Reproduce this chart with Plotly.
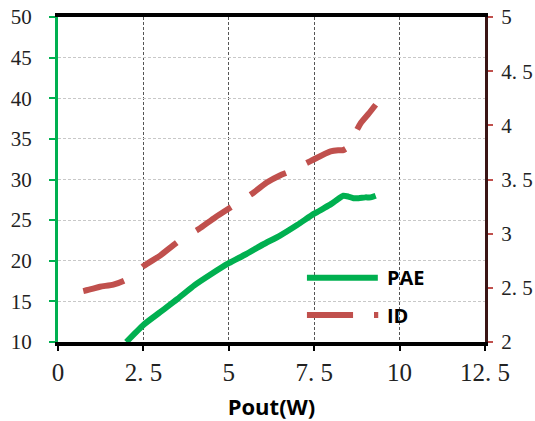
import plotly.graph_objects as go

# Output power (W) and power-added efficiency (%)
pae_x = [2.0, 2.5, 3.0, 3.5, 4.0, 4.5, 5.0, 5.5, 6.0, 6.5, 7.0, 7.5, 7.8, 8.0,
         8.2, 8.35, 8.5, 8.65, 8.8, 9.0, 9.15, 9.3]
pae_y = [10.0, 12.1, 13.7, 15.3, 17.0, 18.4, 19.7, 20.8, 22.0, 23.1, 24.4, 25.8,
         26.5, 27.0, 27.6, 28.0, 27.9, 27.7, 27.7, 27.8, 27.8, 28.0]

# Output power (W) and drain current (A)
id_x = [0.74, 1.0, 1.23, 1.62, 1.96, 2.2, 2.5, 3.0, 3.53, 4.11, 4.6, 5.14, 5.73,
        6.1, 6.51, 6.75, 7.39, 7.98, 8.2, 8.33, 8.45, 8.5, 8.7, 8.86, 9.1, 9.3]
id_y = [2.47, 2.49, 2.51, 2.53, 2.57, 2.62, 2.70, 2.80, 2.93, 3.04, 3.15, 3.26,
        3.38, 3.47, 3.54, 3.57, 3.67, 3.76, 3.77, 3.77, 3.79, 3.83, 3.93, 4.02,
        4.11, 4.19]

x_ticks = [0, 2.5, 5, 7.5, 10, 12.5]
x_tick_text = ["0", "2. 5", "5", "7. 5", "10", "12. 5"]
y_ticks = [10, 15, 20, 25, 30, 35, 40, 45, 50]
y2_ticks = [2, 2.5, 3, 3.5, 4, 4.5, 5]
y2_tick_text = ["2", "2. 5", "3", "3. 5", "4", "4. 5", "5"]

GREEN = "#00B050"
RED = "#C0504D"
SERIF = "Liberation Serif, serif"
SANS = "Open Sans, Liberation Sans, sans-serif"

fig = go.Figure()
fig.add_trace(go.Scatter(x=pae_x, y=pae_y, mode="lines", name="PAE",
                         line=dict(color=GREEN, width=6, shape="spline", smoothing=0.6),
                         showlegend=False))
fig.add_trace(go.Scatter(x=id_x, y=id_y, mode="lines", name="ID", yaxis="y2",
                         line=dict(color=RED, width=6, dash="42px,23px",
                                   shape="spline", smoothing=0.6),
                         showlegend=False))

# Legend drawn as line samples with bold labels
leg = [("PAE", 0.198, "solid"), ("ID", 0.083, "dash")]
for label, yy, kind in leg:
    if kind == "solid":
        fig.add_shape(type="line", xref="paper", yref="paper", x0=0.583, x1=0.749,
                      y0=yy, y1=yy, line=dict(color=GREEN, width=6))
    else:
        fig.add_shape(type="line", xref="paper", yref="paper", x0=0.583, x1=0.691,
                      y0=yy, y1=yy, line=dict(color=RED, width=6))
        fig.add_shape(type="line", xref="paper", yref="paper", x0=0.740, x1=0.750,
                      y0=yy, y1=yy, line=dict(color=RED, width=6))
    fig.add_annotation(xref="paper", yref="paper", x=0.766, y=yy, text=f"<b>{label}</b>",
                       showarrow=False, xanchor="left", yanchor="middle",
                       font=dict(family=SANS, size=20, color="#000"))

fig.update_layout(
    width=535, height=421,
    margin=dict(l=58, r=50, t=17, b=79, autoexpand=False),
    paper_bgcolor="white", plot_bgcolor="white",
    xaxis=dict(range=[0, 12.5], tickvals=x_ticks, ticktext=x_tick_text,
               automargin=False,
               showgrid=True, gridcolor="#555555", griddash="3px,2px", gridwidth=1,
               showline=True, linecolor="black", linewidth=4, mirror=True,
               ticks="outside", ticklen=5, tickwidth=1.5, tickcolor="black",
               ticklabelstandoff=0,
               tickfont=dict(family=SERIF, size=25, color="#222"),
               zeroline=False,
               title=dict(text="<b>Pout(W)</b>", standoff=22,
                          font=dict(family=SANS, size=22, color="#000"))),
    yaxis=dict(range=[10, 50], tickvals=y_ticks, automargin=False,
               showgrid=True, gridcolor="#c8c8c8", griddash="3px,2px", gridwidth=1,
               showline=True, linecolor=GREEN, linewidth=3,
               ticks="outside", ticklen=6, tickwidth=2, tickcolor=GREEN,
               ticklabelstandoff=13,
               tickfont=dict(family=SERIF, size=21, color="#222"),
               zeroline=False),
    yaxis2=dict(range=[2, 5], tickvals=y2_ticks, ticktext=y2_tick_text,
                automargin=False,
                overlaying="y", side="right", showgrid=False,
                showline=True, linecolor="#3a1515", linewidth=3,
                ticks="outside", ticklen=5, tickwidth=2, tickcolor=RED,
                ticklabelstandoff=4,
                tickfont=dict(family=SERIF, size=21, color="#222"),
                zeroline=False),
)

fig.write_html("out.html")
